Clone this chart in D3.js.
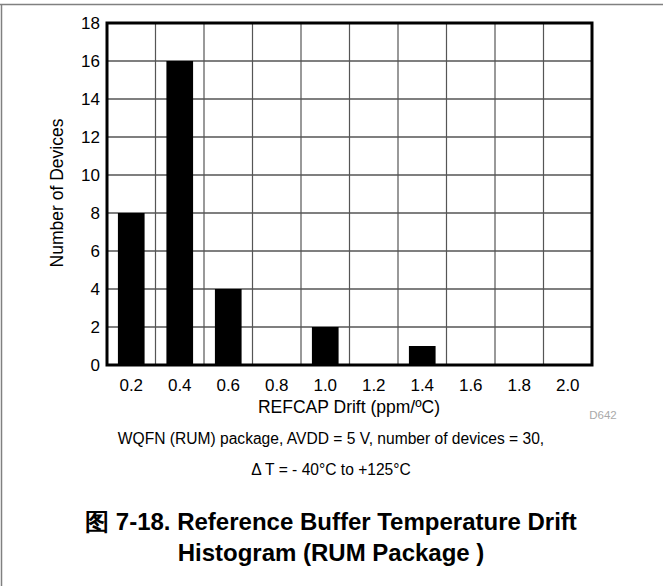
<!DOCTYPE html>
<html><head><meta charset="utf-8">
<script src="https://cdn.jsdelivr.net/npm/d3@7"></script>
<style>body{margin:0;background:#fff}svg{display:block}text{font-family:"Liberation Sans",Arial,sans-serif}</style>
</head><body>
<svg id="c" width="663" height="586"></svg>
<script>
const categories = ["0.2","0.4","0.6","0.8","1.0","1.2","1.4","1.6","1.8","2.0"];
const counts = [8,16,4,0,2,0,1,0,0,0];
const yTicks = [0,2,4,6,8,10,12,14,16,18];
const xTitle = "REFCAP Drift (ppm/ºC)";
const yTitle = "Number of Devices";
const code = "D642";
const captionLines = ["WQFN (RUM) package, AVDD = 5 V, number of devices = 30,", "Δ T =  ‑ 40°C to +125°C"];
const titleLines = ["图 7-18. Reference Buffer Temperature Drift", "Histogram (RUM Package )"];

const svg = d3.select("#c");
const W = 663, H = 586;
const m = {left:107, top:23, right:592, bottom:365};

// outer frame
svg.append("line").attr("x1",0).attr("x2",W).attr("y1",4.5).attr("y2",4.5).attr("stroke","#808080").attr("stroke-width",1.5);
svg.append("line").attr("x1",1.5).attr("x2",1.5).attr("y1",4).attr("y2",H).attr("stroke","#808080").attr("stroke-width",1.5);

const x = d3.scaleBand().domain(categories).range([m.left, m.right]).paddingInner(0).paddingOuter(0);
const y = d3.scaleLinear().domain([0,18]).range([m.bottom, m.top]);

// horizontal gridlines
svg.append("g").selectAll("line").data(yTicks.slice(1,-1)).join("line")
  .attr("x1",m.left).attr("x2",m.right)
  .attr("y1",d=>y(d)).attr("y2",d=>y(d))
  .attr("stroke","#000").attr("stroke-width",1.2);
// vertical gridlines
svg.append("g").selectAll("line").data(categories.slice(1)).join("line")
  .attr("x1",d=>x(d)).attr("x2",d=>x(d))
  .attr("y1",m.top).attr("y2",m.bottom)
  .attr("stroke","#555").attr("stroke-width",1.2);

// bars
const bw = x.bandwidth()*0.55;
svg.append("g").selectAll("rect").data(categories.map((c,i)=>({c,v:counts[i]})).filter(d=>d.v>0)).join("rect")
  .attr("x",d=>x(d.c)+(x.bandwidth()-bw)/2)
  .attr("width",bw)
  .attr("y",d=>y(d.v))
  .attr("height",d=>y(0)-y(d.v))
  .attr("fill","#000");

// frame of plot
svg.append("rect").attr("x",m.left).attr("y",m.top).attr("width",m.right-m.left).attr("height",m.bottom-m.top)
  .attr("fill","none").attr("stroke","#000").attr("stroke-width",3);

// y axis labels
const yAxis = d3.axisLeft(y).tickValues(yTicks).tickSize(0).tickPadding(7);
const gy = svg.append("g").attr("transform",`translate(${m.left},0)`).call(yAxis);
gy.select(".domain").remove();
gy.selectAll("text").attr("font-size",17).attr("fill","#000").attr("font-family","Liberation Sans, Arial, sans-serif");

// x axis labels
const xAxis = d3.axisBottom(x).tickSize(0).tickPadding(14);
const gx = svg.append("g").attr("transform",`translate(0,${m.bottom})`).call(xAxis);
gx.select(".domain").remove();
gx.selectAll("text").attr("font-size",17).attr("fill","#000").attr("font-family","Liberation Sans, Arial, sans-serif");

// titles
svg.append("text").attr("x",349).attr("y",413).attr("text-anchor","middle").attr("font-size",17.5).text(xTitle);
svg.append("text").attr("transform",`translate(63,193) rotate(-90)`).attr("text-anchor","middle").attr("font-size",17.5).text(yTitle);
svg.append("text").attr("x",603).attr("y",418.5).attr("text-anchor","middle").attr("font-size",11.5).attr("fill","#aaa").text(code);

// caption
svg.append("g").selectAll("text").data(captionLines).join("text")
  .attr("x",331).attr("y",(d,i)=>444+i*31).attr("text-anchor","middle").attr("font-size",15.6).attr("fill","#000").text(d=>d);
svg.append("g").selectAll("text").data(titleLines).join("text")
  .attr("x",331).attr("y",(d,i)=>530+i*31).attr("text-anchor","middle").attr("font-size",24).attr("font-weight","bold").attr("fill","#000").text(d=>d);
</script>
</body></html>
